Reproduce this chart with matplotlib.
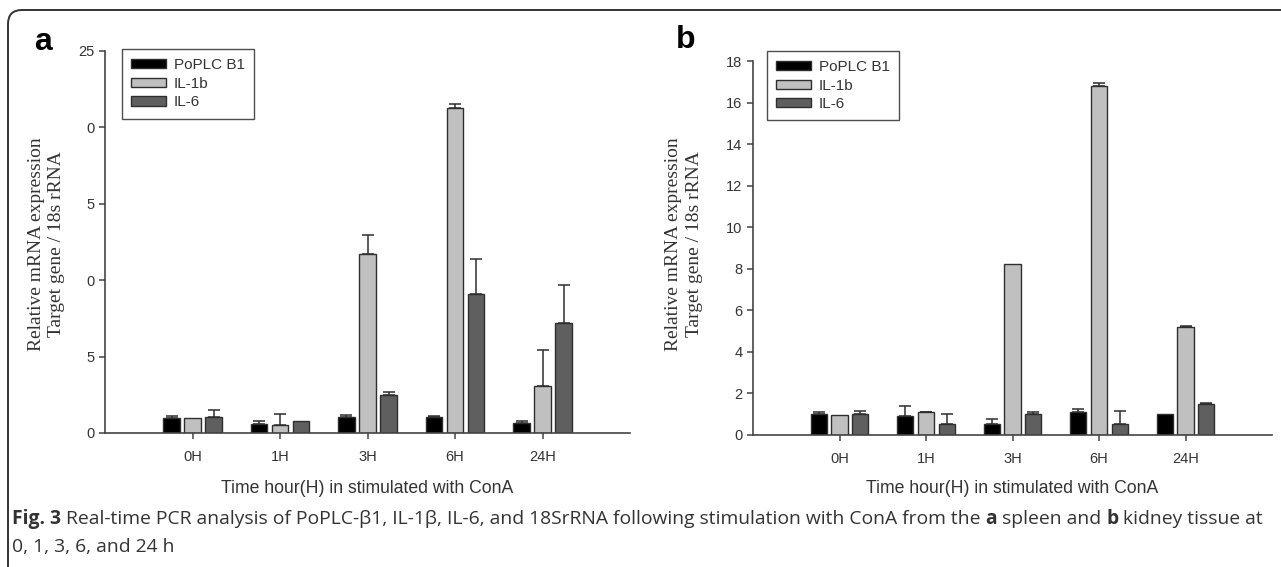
import matplotlib
matplotlib.use('Agg')
import matplotlib.pyplot as plt
import numpy as np
from matplotlib import font_manager
from matplotlib.patches import FancyBboxPatch
from matplotlib.transforms import IdentityTransform

times = ['0H', '1H', '3H', '6H', '24H']
series = ['PoPLC B1', 'IL-1b', 'IL-6']

# panel a (spleen)
a_plc = [0.98, 0.60, 1.03, 1.05, 0.65]
a_plc_err = [0.12, 0.18, 0.17, 0.05, 0.15]
a_il1b = [0.95, 0.55, 11.7, 21.27, 3.1]
a_il1b_err = [0.0, 0.67, 1.26, 0.23, 2.3]
a_il6 = [1.05, 0.78, 2.5, 9.1, 7.2]
a_il6_err = [0.45, 0.0, 0.2, 2.3, 2.5]

# panel b (kidney)
b_plc = [1.0, 0.9, 0.52, 1.1, 1.0]
b_plc_err = [0.1, 0.5, 0.23, 0.15, 0.0]
b_il1b = [0.98, 1.1, 8.23, 16.8, 5.2]
b_il1b_err = [0.0, 0.03, 0.0, 0.14, 0.05]
b_il6 = [1.0, 0.53, 1.0, 0.52, 1.5]
b_il6_err = [0.15, 0.47, 0.1, 0.63, 0.02]

a_yticks = [0, 5, 10, 15, 20, 25]
a_yticklabels = ['0', '5', '0', '5', '0', '25']
b_yticks = [0, 2, 4, 6, 8, 10, 12, 14, 16, 18]

colors = ['#000000', '#c0c0c0', '#5f5f5f']
edge = '#2e2e2e'
txt = '#333333'


def pick(names):
    for n in names:
        try:
            font_manager.findfont(n, fallback_to_default=False)
            return n
        except Exception:
            pass
    return 'DejaVu Sans'


sans = pick(['Liberation Sans', 'Arial'])
serif = pick(['Liberation Serif', 'Times New Roman', 'DejaVu Serif'])
cap_font = pick(['Open Sans', 'Noto Sans'])

plt.rcParams['font.family'] = sans

fig = plt.figure(figsize=(12.81, 5.67), dpi=100)
W, H = 1281, 567


def draw_panel(rect, vals, errs, yticks, yticklabels, ylim, leg_anchor, ylab_x, ylab_y):
    ax = fig.add_axes(rect)
    x = np.arange(1, len(times) + 1)
    width = 0.19
    offs = [-0.24, 0.0, 0.24]
    for v, e, c, o, lab in zip(vals, errs, colors, offs, series):
        e = np.array(e)
        ax.bar(x + o, v, width, color=c, edgecolor=edge, linewidth=1.0, label=lab, zorder=2)
        mask = e > 0
        ax.errorbar((x + o)[mask], np.array(v)[mask], yerr=[np.zeros(mask.sum()), e[mask]],
                    fmt='none', ecolor=edge, elinewidth=1.1, capsize=4.5, capthick=1.1, zorder=3)
    ax.set_xlim(0, 6)
    ax.set_ylim(*ylim)
    ax.set_xticks(x)
    ax.set_xticklabels(times)
    ax.set_yticks(yticks)
    ax.set_yticklabels(yticklabels)
    for s in ['top', 'right']:
        ax.spines[s].set_visible(False)
    for s in ['left', 'bottom']:
        ax.spines[s].set_color('#444444')
        ax.spines[s].set_linewidth(1.2)
    ax.tick_params(direction='out', length=4, width=1.1, color='#444444',
                   labelsize=10.5, labelcolor=txt)
    ax.tick_params(axis='x', pad=8)
    leg = ax.legend(loc='upper left', bbox_to_anchor=leg_anchor, frameon=True, fancybox=False,
                    edgecolor='#222222', fontsize=11, handlelength=2.3, handleheight=0.55,
                    labelspacing=0.3, borderpad=0.6, handletextpad=0.5, borderaxespad=0)
    leg.get_frame().set_linewidth(1.0)
    for t in leg.get_texts():
        t.set_color(txt)
    ax.text(0.5, -0.144, 'Time hour(H) in stimulated with ConA', transform=ax.transAxes,
            ha='center', va='center', fontsize=12.7, color=txt)
    ax.text(ylab_x, ylab_y, 'Relative mRNA expression\nTarget gene / 18s rRNA',
            transform=ax.transAxes, rotation=90, ha='center', va='center',
            multialignment='center', family=serif, fontsize=14, color=txt, linespacing=1.25)
    return ax


ax_a = draw_panel([105 / W, 1 - 433 / H, 525 / W, 382 / H],
                  [a_plc, a_il1b, a_il6], [a_plc_err, a_il1b_err, a_il6_err],
                  a_yticks, a_yticklabels, (0, 25), (0.032, 1.005), -0.112, 0.495)
ax_b = draw_panel([753 / W, 1 - 435 / H, 519 / W, 374 / H],
                  [b_plc, b_il1b, b_il6], [b_plc_err, b_il1b_err, b_il6_err],
                  b_yticks, [str(t) for t in b_yticks], (0, 18), (0.027, 1.027), -0.133, 0.51)

fig.text(43 / W, 1 - 42 / H, 'a', fontsize=23, fontweight='bold', ha='center', va='center',
         family='Liberation Sans')
fig.text(686 / W, 1 - 40 / H, 'b', fontsize=23, fontweight='bold', ha='center', va='center',
         family='Liberation Sans')

# caption, drawn piece by piece to mix bold and regular
renderer = fig.canvas.get_renderer()
cap_size = 13.9
line1 = [('Fig. 3', 'bold'),
         (' Real-time PCR analysis of PoPLC-\u03b21, IL-1\u03b2, IL-6, and 18SrRNA following '
          'stimulation with ConA from the ', 'normal'),
         ('a', 'bold'), (' spleen and ', 'normal'), ('b', 'bold'), (' kidney tissue at', 'normal')]
xpos = 12
for s, w in line1:
    t = fig.text(xpos / W, 1 - 519 / H, s, fontsize=cap_size, fontweight=w, family=cap_font,
                 color=txt, ha='left', va='center')
    xpos += t.get_window_extent(renderer).width
fig.text(12 / W, 1 - 547 / H, '0, 1, 3, 6, and 24 h', fontsize=cap_size, family=cap_font,
         color=txt, ha='left', va='center')

border = FancyBboxPatch((8, -30), 1400, H - 10 + 30, boxstyle='round,pad=0,rounding_size=14',
                        transform=IdentityTransform(), fill=False, edgecolor='#333333',
                        linewidth=1.4, clip_on=False)
fig.patches.append(border)

fig.savefig('out.png', dpi=100)
